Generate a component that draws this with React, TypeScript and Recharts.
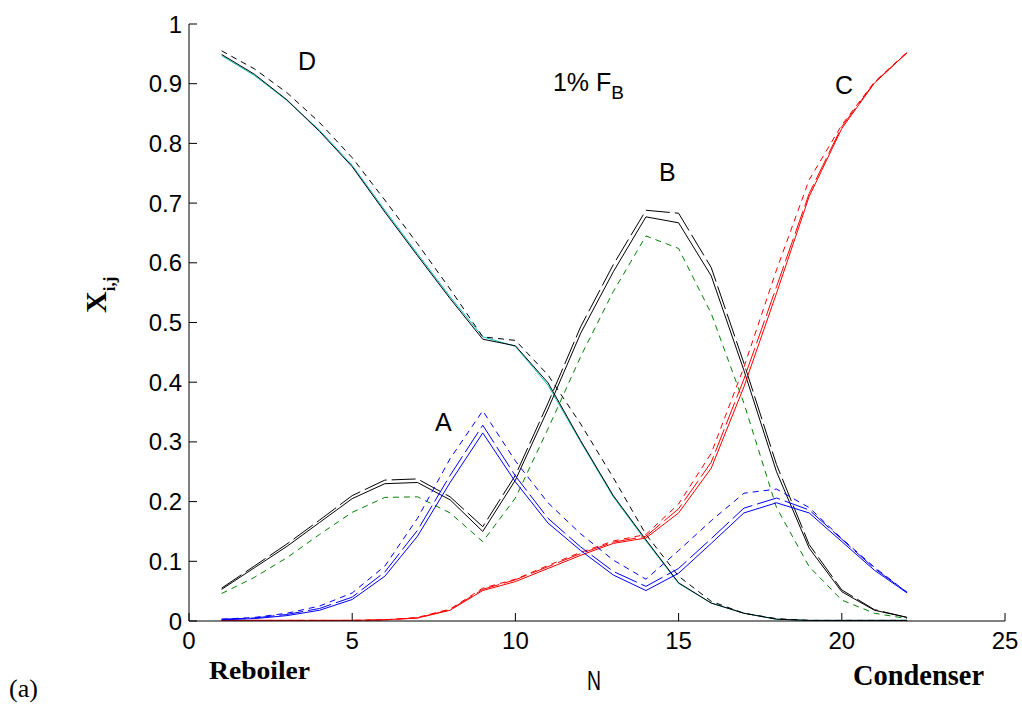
import React from 'react';
import { LineChart, Line, XAxis, YAxis, ReferenceDot } from 'recharts';

// stage number N (1 = reboiler, 22 = condenser)
const stages = [1, 2, 3, 4, 5, 6, 7, 8, 9, 10, 11, 12, 13, 14, 15, 16, 17, 18, 19, 20, 21, 22];

// component A (blue)
const aSolid = [0.002, 0.004, 0.009, 0.018, 0.036, 0.075, 0.142, 0.232, 0.315, 0.233, 0.164, 0.118, 0.077, 0.051, 0.080, 0.130, 0.181, 0.198, 0.181, 0.133, 0.085, 0.047];
const aLong = [0.003, 0.005, 0.011, 0.021, 0.040, 0.082, 0.152, 0.244, 0.328, 0.243, 0.172, 0.124, 0.083, 0.058, 0.088, 0.138, 0.189, 0.206, 0.186, 0.137, 0.088, 0.048];
const aShort = [0.003, 0.006, 0.013, 0.025, 0.047, 0.092, 0.172, 0.272, 0.352, 0.268, 0.198, 0.146, 0.102, 0.070, 0.118, 0.168, 0.214, 0.221, 0.190, 0.138, 0.090, 0.048];

// component B (black / green)
const bSolid = [0.053, 0.089, 0.125, 0.165, 0.205, 0.230, 0.232, 0.203, 0.150, 0.236, 0.355, 0.482, 0.585, 0.677, 0.667, 0.578, 0.420, 0.250, 0.122, 0.049, 0.018, 0.006];
const bLong = [0.055, 0.092, 0.129, 0.169, 0.210, 0.236, 0.238, 0.208, 0.158, 0.244, 0.365, 0.493, 0.597, 0.688, 0.683, 0.592, 0.432, 0.262, 0.128, 0.052, 0.019, 0.006];
const bShort = [0.046, 0.073, 0.106, 0.145, 0.182, 0.207, 0.208, 0.181, 0.133, 0.206, 0.322, 0.443, 0.552, 0.645, 0.624, 0.515, 0.365, 0.190, 0.091, 0.035, 0.013, 0.004];

// component C (red)
const cSolid = [0.001, 0.001, 0.001, 0.001, 0.001, 0.002, 0.005, 0.018, 0.051, 0.066, 0.088, 0.110, 0.130, 0.139, 0.181, 0.256, 0.392, 0.549, 0.711, 0.825, 0.901, 0.952];
const cLong = [0.001, 0.001, 0.001, 0.001, 0.001, 0.002, 0.005, 0.019, 0.053, 0.069, 0.091, 0.113, 0.132, 0.142, 0.188, 0.266, 0.405, 0.560, 0.716, 0.828, 0.902, 0.952];
const cShort = [0.001, 0.001, 0.001, 0.001, 0.001, 0.002, 0.006, 0.020, 0.055, 0.070, 0.093, 0.115, 0.134, 0.145, 0.196, 0.281, 0.425, 0.588, 0.739, 0.831, 0.903, 0.953];

// component D (black / cyan)
const dSolid = [0.949, 0.916, 0.873, 0.820, 0.761, 0.685, 0.612, 0.540, 0.472, 0.461, 0.399, 0.302, 0.210, 0.136, 0.064, 0.030, 0.013, 0.003, 0.001, 0.001, 0.001, 0.001];
const dCyan = [0.947, 0.914, 0.872, 0.822, 0.763, 0.688, 0.615, 0.543, 0.476, 0.460, 0.395, 0.300, 0.208, 0.134, 0.063, 0.030, 0.013, 0.003, 0.001, 0.001, 0.001, 0.001];
const dShort = [0.955, 0.925, 0.885, 0.835, 0.776, 0.705, 0.632, 0.556, 0.476, 0.470, 0.412, 0.330, 0.240, 0.145, 0.075, 0.033, 0.013, 0.004, 0.001, 0.001, 0.001, 0.001];

const xTicks = [0, 5, 10, 15, 20, 25];
const yTicks = [0, 0.1, 0.2, 0.3, 0.4, 0.5, 0.6, 0.7, 0.8, 0.9, 1];

// curve labels inside the plot
const notes = [
  { n: 3.34, v: 0.923, text: 'D', sub: '' },
  { n: 11.15, v: 0.888, text: '1% F', sub: 'B' },
  { n: 14.4, v: 0.737, text: 'B', sub: '' },
  { n: 19.79, v: 0.883, text: 'C', sub: '' },
  { n: 7.54, v: 0.318, text: 'A', sub: '' },
];

const data = stages.map((n, i) => ({
  n,
  aSolid: aSolid[i], aLong: aLong[i], aShort: aShort[i],
  bSolid: bSolid[i], bLong: bLong[i], bShort: bShort[i],
  cSolid: cSolid[i], cLong: cLong[i], cShort: cShort[i],
  dSolid: dSolid[i], dCyan: dCyan[i], dShort: dShort[i],
}));

const LONG = '24 5';
const SHORT = '6 5';

const series = [
  { key: 'dCyan', color: '#00bfbf', dash: undefined },
  { key: 'dSolid', color: '#000000', dash: undefined },
  { key: 'dShort', color: '#000000', dash: SHORT },
  { key: 'bShort', color: '#008000', dash: SHORT },
  { key: 'bSolid', color: '#000000', dash: undefined },
  { key: 'bLong', color: '#000000', dash: LONG },
  { key: 'cSolid', color: '#ff0000', dash: undefined },
  { key: 'cLong', color: '#ff0000', dash: LONG },
  { key: 'cShort', color: '#ff0000', dash: SHORT },
  { key: 'aSolid', color: '#0000ff', dash: undefined },
  { key: 'aLong', color: '#0000ff', dash: LONG },
  { key: 'aShort', color: '#0000ff', dash: SHORT },
];

const sans = 'Liberation Sans, Arial, sans-serif';
const serif = 'Liberation Serif, Times New Roman, serif';
const tickFont = { fill: '#000', fontSize: 24, fontFamily: sans };
const line = { stroke: '#000', strokeWidth: 1 };

const App = () => {
  return (
    <div style={{ position: 'absolute', left: 0, top: 0, width: 1022, height: 711, background: '#fff' }}>
      <LineChart width={1022} height={711} data={data} margin={{ top: 24, right: 17, bottom: 50, left: 109 }}>
        <XAxis dataKey="n" type="number" domain={[0, 25]} ticks={xTicks} interval={0} height={40}
          tickSize={-8} tickMargin={19} tick={tickFont} axisLine={line} tickLine={line} />
        <XAxis xAxisId="top" orientation="top" dataKey="n" type="number" domain={[0, 25]} ticks={xTicks}
          interval={0} height={0} tickSize={-8} tick={false} axisLine={line} tickLine={line} />
        <YAxis type="number" domain={[0, 1]} ticks={yTicks} interval={0} width={80}
          tickSize={-8} tickMargin={15} tick={tickFont} axisLine={line} tickLine={line} />
        <YAxis yAxisId="right" orientation="right" type="number" domain={[0, 1]} ticks={yTicks} interval={0}
          width={0} tickSize={-8} tick={false} axisLine={line} tickLine={line} />
        {series.map((s) => (
          <Line key={s.key} type="linear" dataKey={s.key} stroke={s.color} strokeWidth={1}
            strokeDasharray={s.dash} dot={false} activeDot={false} isAnimationActive={false} />
        ))}
        {notes.map((t) => (
          <ReferenceDot key={t.text} x={t.n} y={t.v} r={1} ifOverflow="visible"
            shape={(p: any) => (
              <text x={p.cx} y={p.cy} fontSize={25} fontFamily={sans} fill="#000">
                {t.text}
                {t.sub ? <tspan dy={8} fontSize={19}>{t.sub}</tspan> : null}
              </text>
            )} />
        ))}
      </LineChart>
      <svg width={1022} height={711} style={{ position: 'absolute', left: 0, top: 0, pointerEvents: 'none' }}>
        <g transform="translate(106,313) rotate(-90)">
          <text x={0} y={0} fontSize={30} fontWeight="bold" fontFamily={serif} fill="#000">
            X<tspan dy={9} fontSize={17}>i,j</tspan>
          </text>
        </g>
        <text x={209} y={679} fontSize={26} fontWeight="bold" fontFamily={serif} textLength={101} lengthAdjust="spacingAndGlyphs">Reboiler</text>
        <text x={587} y={690} fontSize={27} fontFamily={sans} textLength={14} lengthAdjust="spacingAndGlyphs">N</text>
        <text x={853} y={685} fontSize={29} fontWeight="bold" fontFamily={serif} textLength={131} lengthAdjust="spacingAndGlyphs">Condenser</text>
        <text x={9} y={697} fontSize={26} fontFamily={serif}>(a)</text>
      </svg>
    </div>
  );
};

export default App;
